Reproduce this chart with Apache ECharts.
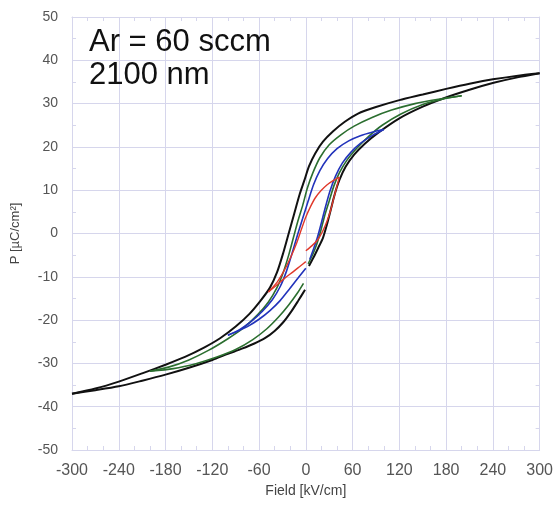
<!DOCTYPE html>
<html>
<head>
<meta charset="utf-8">
<script src="https://cdn.jsdelivr.net/npm/echarts@6/dist/echarts.min.js"></script>
<style>html,body{margin:0;padding:0;background:#fff;}#c{width:556px;height:510px;}</style>
</head>
<body>
<div id="c"></div>
<script>
// Field [kV/cm], P [uC/cm2]
var blackInit = [[4,-7.5],[10,-5.5],[16,-3.3],[22,-1],[27,2],[32,5.5],[37,9],[43,12.3],[51,15.4],[62,18.2],[76,20.8],[93,23.3],[120,26.6],[150,29.3],[178,31.3],[210,33.2],[241,34.8],[270,36],[300,37]];
var blackDesc = [[300,37],[270,36.4],[240,35.6],[210,34.6],[180,33.4],[150,32.1],[120,30.8],[90,29.2],[67,27.7],[50,25.8],[35,23.6],[22,21.2],[12,18.5],[4,15.5],[-2,12.2],[-8,9],[-15,4.5],[-22,0],[-29,-4.5],[-37,-9],[-46,-12.5],[-58,-15.5],[-72,-18.5],[-90,-21.5],[-110,-24.2],[-130,-26.3],[-155,-28.5],[-180,-30.3],[-210,-32.3],[-240,-34.2],[-270,-35.8],[-300,-37]];
var blackAsc = [[-300,-37],[-270,-36.2],[-240,-35.3],[-210,-34],[-180,-32.6],[-150,-31],[-120,-29.2],[-100,-27.8],[-82,-26.6],[-66,-25.4],[-52,-24.1],[-40,-22.5],[-29,-20.5],[-19,-18.1],[-10,-15.6],[-1,-13]];

var greenInit = [[3,-7],[9,-4.8],[14,-2.5],[19,0.5],[24,4],[30,7.5],[36,11],[43,14],[53,17],[66,19.8],[81,22.5],[98,25],[122,27.6],[150,29.8],[175,31],[200,31.8]];
var greenDesc = [[200,31.8],[170,31],[140,30],[110,28.5],[85,26.8],[62,24.8],[45,22.8],[30,20.5],[18,17.5],[9,14],[2,10.5],[-4,6.5],[-10,3],[-16,-1],[-22,-5],[-29,-9],[-37,-12.5],[-48,-15.8],[-62,-18.8],[-80,-21.8],[-100,-24.3],[-125,-27],[-150,-29.2],[-175,-30.8],[-200,-31.8]];
var greenAsc = [[-200,-31.8],[-170,-31.2],[-140,-30],[-115,-28.6],[-90,-26.8],[-68,-24.5],[-50,-22],[-35,-19.3],[-22,-16.5],[-11,-13.8],[-3,-11.5]];

var blueInit = [[5,-6],[10,-3.5],[15,-0.8],[20,2.5],[25,6],[31,9.8],[38,13.2],[47,16.3],[58,18.8],[70,20.8],[85,22.6],[100,24]];
var blueDesc = [[100,24],[85,23.4],[70,22.6],[55,21.4],[40,19.6],[28,17.3],[18,14.5],[10,11.3],[3,7.5],[-4,3.5],[-11,-0.5],[-18,-4.8],[-25,-8.8],[-33,-12.3],[-43,-15.3],[-56,-18],[-70,-20.3],[-85,-22.2],[-100,-23.5]];
var blueAsc = [[-100,-23.5],[-88,-22.6],[-75,-21.5],[-60,-19.8],[-46,-17.8],[-33,-15.5],[-21,-12.8],[-10,-10.3],[0,-8]];

var redInit = [[0,-4],[8,-2.8],[15,-1.5],[21,0.3],[27,2.8],[32,5.5],[36,8.3],[40,11],[43,13]];
var redDesc = [[43,13],[35,12.2],[27,11.2],[19,9.8],[12,8.2],[6,6.2],[0,3.8],[-6,0.8],[-12,-2.3],[-19,-5.3],[-27,-8.3],[-37,-11.3],[-48,-13.5]];
var redAsc = [[-48,-13.5],[-38,-12],[-27,-10.3],[-16,-8.8],[-7,-7.5],[0,-6.5]];

var xTicks = [-300,-240,-180,-120,-60,0,60,120,180,240,300];
var yTicks = [-50,-40,-30,-20,-10,0,10,20,30,40,50];

var COL = {black:'#111111', green:'#2b6e2f', blue:'#2233bb', red:'#e0382a'};
function seg(data, color, w){
  return {type:'line', data:data, xAxisIndex:0, yAxisIndex:0, smooth:0.25, symbol:'none',
    lineStyle:{color:color, width:w}, silent:true, animation:false, z:3};
}
var gridCol = '#d6d6ec';
var chart = echarts.init(document.getElementById('c'), null, {renderer:'canvas'});
var axCommonX = {type:'value', min:xTicks[0], max:xTicks[xTicks.length-1], interval:60};
var axCommonY = {type:'value', min:yTicks[0], max:yTicks[yTicks.length-1], interval:10};
var FONT = '"Liberation Sans", Arial, sans-serif';
chart.setOption({
  backgroundColor:'#ffffff',
  animation:false,
  grid:{left:72, right:13, top:17, bottom:60},
  graphic:[
    {type:'text', left:89, top:27, z:100, style:{text:'Ar = 60 sccm', font:'31px ' + FONT, fill:'#111'}},
    {type:'text', left:89, top:60, z:100, style:{text:'2100 nm', font:'31px ' + FONT, fill:'#111'}}
  ],
  xAxis:[
    Object.assign({}, axCommonX, {position:'bottom', name:'Field [kV/cm]', nameLocation:'middle', nameGap:31,
      nameTextStyle:{color:'#444', fontSize:14, fontFamily:'Liberation Sans'},
      axisLine:{show:true, onZero:false, lineStyle:{color:gridCol}},
      axisTick:{show:false, inside:true},
      minorTick:{show:true, splitNumber:3, length:4, lineStyle:{color:gridCol}},
      axisLabel:{color:'#555', fontSize:16, fontFamily:'Liberation Sans', margin:13},
      splitLine:{show:true, lineStyle:{color:gridCol, width:1}}}),
    Object.assign({}, axCommonX, {position:'top',
      axisLine:{show:true, onZero:false, lineStyle:{color:gridCol}},
      axisTick:{show:false, inside:true}, axisLabel:{show:false},
      minorTick:{show:true, splitNumber:3, length:4, lineStyle:{color:gridCol}},
      splitLine:{show:false}})
  ],
  yAxis:[
    Object.assign({}, axCommonY, {position:'left', name:'P [\u00b5C/cm\u00b2]', nameLocation:'middle', nameGap:50,
      nameRotate:90, nameTextStyle:{color:'#444', fontSize:13, fontFamily:'Liberation Sans'},
      axisLine:{show:true, onZero:false, lineStyle:{color:gridCol}},
      axisTick:{show:false, inside:true},
      minorTick:{show:true, splitNumber:2, length:4, lineStyle:{color:gridCol}},
      axisLabel:{color:'#555', fontSize:14, fontFamily:'Liberation Sans', margin:14},
      splitLine:{show:true, lineStyle:{color:gridCol, width:1}}}),
    Object.assign({}, axCommonY, {position:'right',
      axisLine:{show:true, onZero:false, lineStyle:{color:gridCol}},
      axisTick:{show:false, inside:true}, axisLabel:{show:false},
      minorTick:{show:true, splitNumber:2, length:4, lineStyle:{color:gridCol}},
      splitLine:{show:false}})
  ],
  series:[
    seg(blackInit, COL.black, 2), seg(blackDesc, COL.black, 2), seg(blackAsc, COL.black, 2),
    seg(greenInit, COL.green, 1.6), seg(greenDesc, COL.green, 1.6), seg(greenAsc, COL.green, 1.6),
    seg(blueInit, COL.blue, 1.6), seg(blueDesc, COL.blue, 1.6), seg(blueAsc, COL.blue, 1.6),
    seg(redInit, COL.red, 1.4), seg(redDesc, COL.red, 1.4), seg(redAsc, COL.red, 1.4)
  ]
});
</script>
</body>
</html>
